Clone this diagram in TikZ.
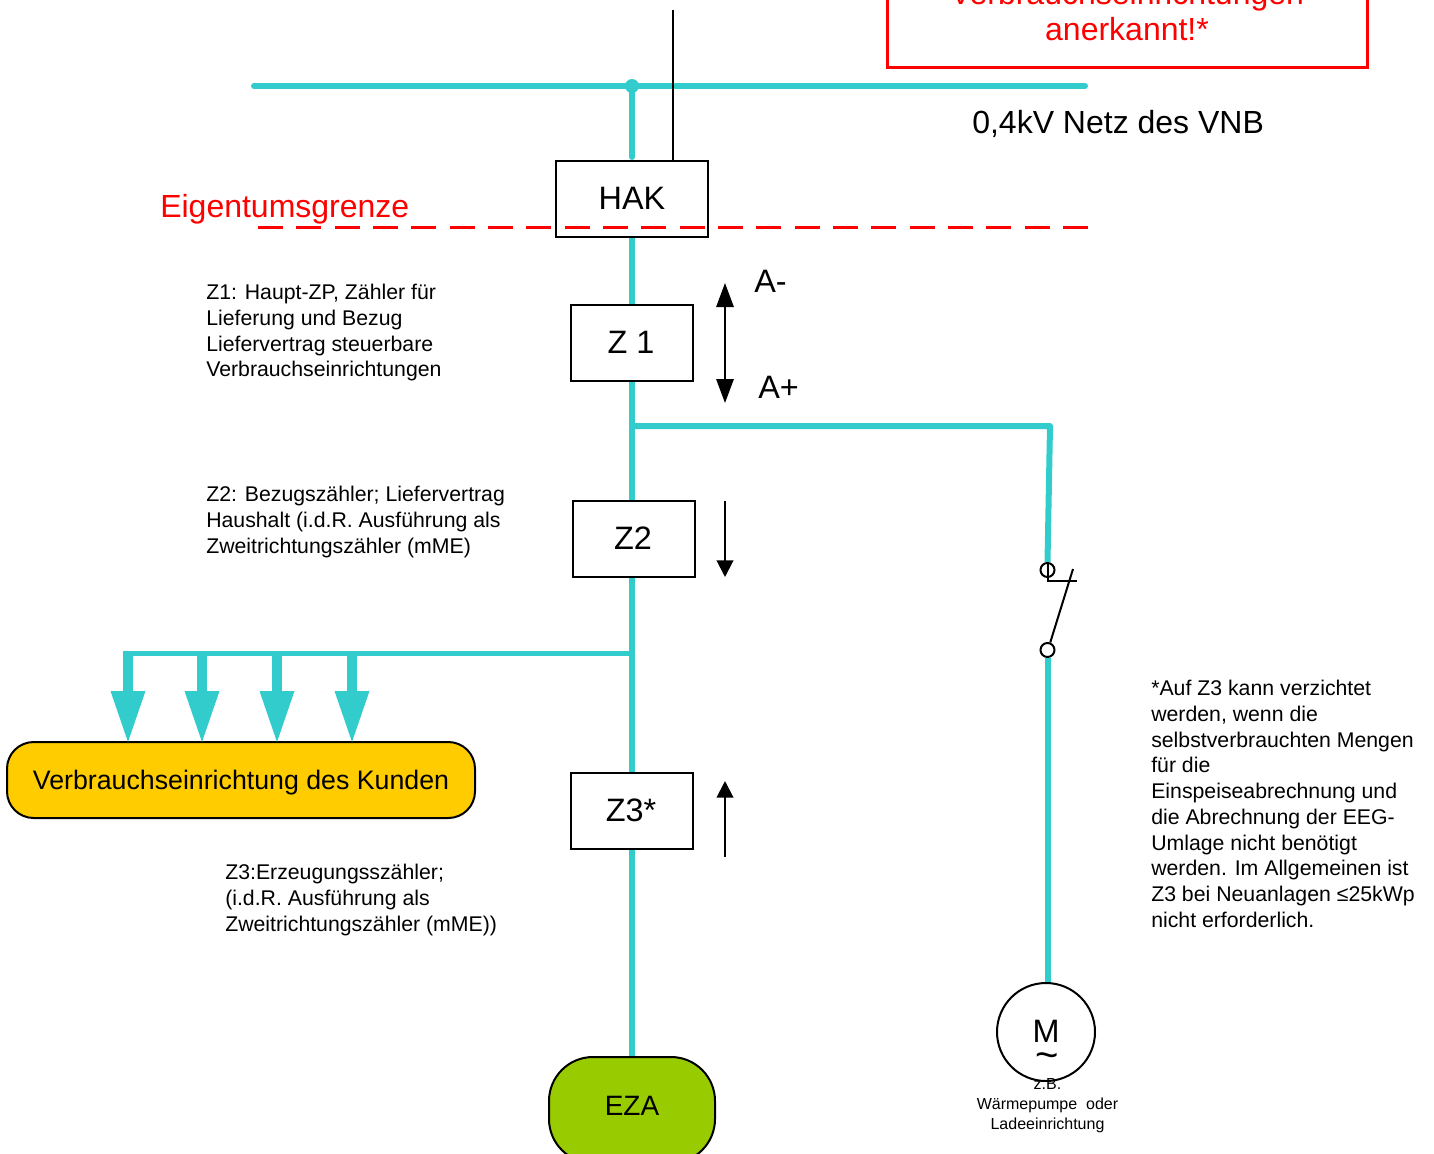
\documentclass[tikz,border=0pt]{standalone}
\usepackage{fontspec}
\setmainfont{Liberation Sans}
\usetikzlibrary{arrows.meta,calc}
\definecolor{tl}{HTML}{33CCCC}
\definecolor{yl}{HTML}{FFCC00}
\definecolor{gn}{HTML}{99CC00}
\newcommand{\fontpx}[2]{\fontsize{#1pt}{#2pt}\selectfont}
\tikzset{
  x=0.75pt,y=-0.75pt,
  boxn/.style={draw=black,line width=1.5pt,fill=none,inner sep=0pt},
  wire/.style={draw=tl,line width=4.5pt},
  wirethin/.style={draw=tl,line width=3.75pt,line join=round},
  thinblk/.style={draw=black,line width=1.5pt},
  txt/.style={anchor=north west,align=left,inner sep=0pt,font=\fontpx{15.95}{19.3}},
  big/.style={inner sep=0pt,font=\fontpx{24.3}{30}},
  drop/.style={draw=tl,line width=7.8pt},
  heads/.style={fill=tl,draw=none},
  blkarrowb/.style={thinblk,{Triangle[length=18pt,width=13pt]}-{Triangle[length=18pt,width=13pt]}},
  blksmall/.style={thinblk,-{Triangle[length=12.5pt,width=12.5pt]}},
  contact/.style={circle,draw=black,line width=1.5pt,minimum size=10.5pt,inner sep=0pt},
}
\begin{document}
\begin{tikzpicture}
\useasboundingbox (0,0) rectangle (1434,1153);
\clip (0,0) rectangle (1434,1153);

% coordinates
\coordinate (busL) at (254,86);
\coordinate (busR) at (1085,86);
\coordinate (busJ) at (632,86);
\coordinate (feed) at (673,10);
\coordinate (grL) at (258,227);
\coordinate (grR) at (1090,227);
\coordinate (branchJ) at (632,426);
\coordinate (branchC) at (1050,426);
\coordinate (loadJ) at (632,653);
\coordinate (loadC) at (127,653);

% nodes
\node[boxn,minimum width=114pt,minimum height=57pt] (hak) at (632,199) {};
\node[big] (haktxt) at (632,198) {HAK};
\node[boxn,minimum width=91.5pt,minimum height=57pt] (z1) at (632,343) {};
\node[big] (z1txt) at (631,342) {Z 1};
\node[boxn,minimum width=91.5pt,minimum height=57pt] (z2) at (634,539) {};
\node[big] (z2txt) at (633,538) {Z2};
\node[boxn,minimum width=91.5pt,minimum height=57pt] (z3) at (632,811) {};
\node[big] (z3txt) at (631,810) {Z3*};
\node[draw=black,line width=1.5pt,fill=yl,rounded corners=20pt,minimum width=351pt,minimum height=57pt,inner sep=0pt] (verb) at (241,780) {};
\node[inner sep=0pt,font=\fontpx{20.05}{24}] (verbtxt) at (241,783) {Verbrauchseinrichtung des Kunden};
\node[draw=black,line width=1.5pt,fill=gn,rounded corners=33pt,minimum width=124.5pt,minimum height=79.5pt,inner sep=0pt] (eza) at (632,1110) {};
\node[inner sep=0pt,font=\fontpx{21}{25}] (ezatxt) at (632,1106) {EZA};
\node[circle,draw=black,line width=1.5pt,minimum size=73.5pt,inner sep=0pt] (motor) at (1046,1032) {};
\node[inner sep=0pt,font=\fontpx{24.3}{30}] (mtxt) at (1046,1031) {M};
\node[inner sep=0pt,font=\fontpx{30}{30}] (mtilde) at (1047,1061) {\char"7E};
\node[contact] (c1) at (1047.5,570) {};
\node[contact] (c2) at (1047.5,650) {};

% red box
\node[draw=red,line width=2.25pt,minimum width=360pt,minimum height=90pt,inner sep=0pt] (redbox) at (1127,7) {};
\node[inner sep=0pt,align=center,text=red,font=\fontpx{24}{27.4}] (redtxt) at (1127,11) {Verbrauchseinrichtungen\\anerkannt!*};

% wires
\draw[wire,line cap=round] (busL) -- (busR);
\fill[tl] (busJ) circle (7);
\draw[wire,line cap=round] (busJ) -- ($(hak.north)+(0,-3)$);
\draw[thinblk] (feed) -- (feed |- hak.north);
\draw[wire] (hak.south) -- (z1.north);
\draw[wire] (z1.south) -- (z1.south |- z2.north);
\draw[wire] (z1.south |- z2.south) -- (z3.north);
\draw[wire] (z3.south) -- (eza.north);
\draw[wire,line join=round] (branchJ) -- (branchC) -- (c1.north);
\draw[wire] (c2.south) -- (c2.south |- motor.north);
\draw[wirethin] (loadJ) -- (loadC);

% load arrows
\foreach \n/\tx in {a/128,b/202,c/277,d/352}{
  \coordinate (top\n) at (\tx,651);
  \coordinate (tip\n) at (\tx,742);
  \draw[drop] (top\n) -- (\tx,695);
  \fill[heads] (\tx-17.5,691) -- (\tx+17.5,691) -- (tip\n) -- cycle;
}

% switch
\draw[thinblk] (c1.center) |- (1077,581);
\draw[thinblk] (1073,569) -- (c2.70);
\draw[thinblk] (1047.5,562) -- (c1.center);

% Eigentumsgrenze
\draw[draw=red,line width=2.25pt,dash pattern=on 18.75pt off 10pt] (grL) -- (grR);

% arrows beside meters
\coordinate (aTop) at (725,283);
\coordinate (aBot) at (725,403);
\draw[blkarrowb] (aTop) -- (aBot);
\coordinate (bTop) at (725,501);
\coordinate (bBot) at (725,577);
\draw[blksmall] (bTop) -- (bBot);
\coordinate (cTop) at (725,857);
\coordinate (cBot) at (725,781);
\draw[blksmall] (cTop) -- (cBot);

% texts
\node[big,anchor=west] (tam) at (754,281) {A-};
\node[big,anchor=west] (tap) at (758,387) {A+};
\node[inner sep=0pt,anchor=west,font=\fontpx{24}{30}] (tnetz) at (972,124) {0,4kV Netz des VNB};
\node[inner sep=0pt,anchor=west,text=red,font=\fontpx{24}{30}] (teig) at (160,209) {Eigentumsgrenze};
\node[txt] (t1) at (206,284) {Z1: Haupt-ZP, Zähler für\\Lieferung und Bezug\\Liefervertrag steuerbare\\Verbrauchseinrichtungen};
\node[txt] (t2) at (206,486) {Z2: Bezugszähler; Liefervertrag\\Haushalt (i.d.R. Ausführung als\\Zweitrichtungszähler (mME)};
\node[txt] (t3) at (225,864) {Z3:Erzeugungsszähler;\\(i.d.R. Ausführung als\\Zweitrichtungszähler (mME))};
\node[txt] (t4) at (1151,680) {*Auf Z3 kann verzichtet\\werden, wenn die\\selbstverbrauchten Mengen\\für die\\Einspeiseabrechnung und\\die Abrechnung der EEG-\\Umlage nicht benötigt\\werden. Im Allgemeinen ist\\Z3 bei Neuanlagen ≤25kWp\\nicht erforderlich.};
\node[inner sep=0pt,align=center,font=\fontpx{12}{15}] (t5) at (1047.5,1105.5) {z.B.\\Wärmepumpe\ \ oder\\Ladeeinrichtung};
\end{tikzpicture}
\end{document}
